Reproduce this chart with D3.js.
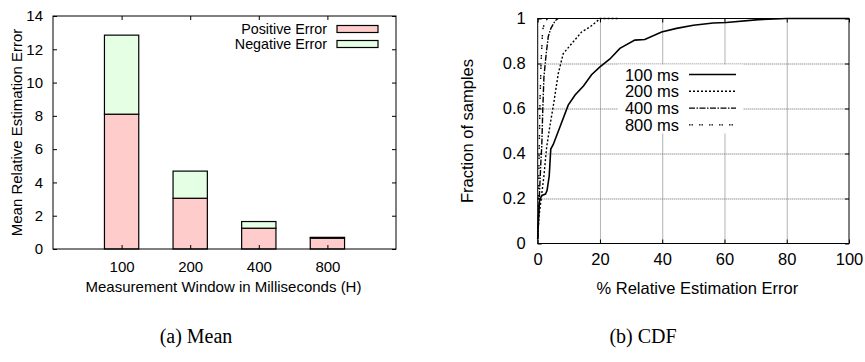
<!DOCTYPE html>
<html><head><meta charset="utf-8">
<script src="https://cdn.jsdelivr.net/npm/d3@7"></script>
<style>body{margin:0;background:#fff}svg{display:block}</style>
</head><body>
<svg id="c" width="865" height="362"></svg>
<script>
// ---- Data: (a) Mean ----
const windows = ["100", "200", "400", "800"];
const positiveError = [8.1, 3.05, 1.25, 0.65];
const negativeError = [4.75, 1.63, 0.4, 0.05];
const barYTicks = [0, 2, 4, 6, 8, 10, 12, 14];

// ---- Data: (b) CDF ----
const cdfSeries = ["100 ms", "200 ms", "400 ms", "800 ms"];
const cdf100x = [0, 0.3, 0.6, 1, 1.5, 2.5, 3, 3.7, 4.2, 5, 7.2, 9.8, 12, 14.7, 17.3, 20, 23.2, 26.4, 31.2, 34.4, 39.8, 44.6, 50, 56.4, 60.6, 71, 80, 100];
const cdf100y = [0.02, 0.13, 0.19, 0.205, 0.215, 0.22, 0.235, 0.3, 0.42, 0.44, 0.52, 0.615, 0.66, 0.70, 0.75, 0.785, 0.82, 0.867, 0.904, 0.907, 0.94, 0.956, 0.97, 0.98, 0.982, 0.995, 1.0, 1.0];
const cdf200x = [0, 0.4, 1.3, 2, 2.6, 2.9, 4, 5, 6.6, 8.2, 10.4, 14.1, 16.8, 19.5, 20, 26];
const cdf200y = [0.03, 0.12, 0.22, 0.3, 0.39, 0.43, 0.53, 0.61, 0.755, 0.844, 0.88, 0.94, 0.963, 0.993, 1.0, 1.0];
const cdf400x = [0, 0.2, 0.5, 1, 1.3, 1.6, 2, 2.7, 3.4, 4.2, 5.6, 6.6];
const cdf400y = [0.02, 0.07, 0.2, 0.36, 0.43, 0.58, 0.74, 0.84, 0.92, 0.955, 0.99, 1.0];
const cdf800x = [0, 0.1, 0.3, 0.4, 0.5, 0.75, 1.1, 1.6, 2.4, 3.4];
const cdf800y = [0.02, 0.06, 0.2, 0.35, 0.43, 0.64, 0.81, 0.95, 0.99, 1.0];
const cdfXTicks = [0, 20, 40, 60, 80, 100];
const cdfYTicks = [0, 0.2, 0.4, 0.6, 0.8, 1];

const svg = d3.select("#c");
const SANS = "'Liberation Sans', Arial, Helvetica, sans-serif";
const SERIF = "'Liberation Serif', 'Times New Roman', serif";

// ================= (a) Mean =================
{
  const L = 53, R = 396, T = 16, B = 249;
  const fs = 15;
  const x = d3.scaleLinear().domain([0, 5]).range([L, R]);
  const y = d3.scaleLinear().domain([0, 14]).range([B, T]);
  const g = svg.append("g");
  const bw = x(0.5) - x(0);
  const colPos = "#ffcccc", colNeg = "#e5ffe5";

  windows.forEach((w, i) => {
    const cx = x(i + 1);
    const p = positiveError[i], n = negativeError[i];
    g.append("rect").attr("x", cx - bw / 2).attr("y", y(p)).attr("width", bw).attr("height", y(0) - y(p))
      .attr("fill", colPos).attr("stroke", "#000").attr("stroke-width", 1.2);
    g.append("rect").attr("x", cx - bw / 2).attr("y", y(p + n)).attr("width", bw).attr("height", y(p) - y(p + n))
      .attr("fill", colNeg).attr("stroke", "#000").attr("stroke-width", 1.2);
  });

  g.append("rect").attr("x", L).attr("y", T).attr("width", R - L).attr("height", B - T)
    .attr("fill", "none").attr("stroke", "#000").attr("stroke-width", 1);

  const ya = g.append("g").attr("transform", `translate(${L},0)`)
    .call(d3.axisLeft(y).tickValues(barYTicks).tickSize(-4).tickPadding(10).tickFormat(d3.format("d")));
  const yb = g.append("g").attr("transform", `translate(${R},0)`)
    .call(d3.axisRight(y).tickValues(barYTicks).tickSize(-4).tickFormat(""));
  const xa = g.append("g").attr("transform", `translate(0,${B})`)
    .call(d3.axisBottom(x).tickValues([1, 2, 3, 4]).tickSize(-4).tickPadding(12).tickFormat(d => windows[d - 1]));
  const xb = g.append("g").attr("transform", `translate(0,${T})`)
    .call(d3.axisTop(x).tickValues([1, 2, 3, 4]).tickSize(-4).tickFormat(""));
  [ya, yb, xa, xb].forEach(a => {
    a.select(".domain").remove();
    a.selectAll("text").attr("font-family", SANS).attr("font-size", fs).attr("fill", "#000");
    a.selectAll("line").attr("stroke", "#000");
  });

  g.append("text").attr("x", (L + R) / 2 - 1).attr("y", 292).attr("text-anchor", "middle")
    .attr("font-family", SANS).attr("font-size", fs).text("Measurement Window in Milliseconds (H)");
  g.append("text").attr("transform", `translate(22,${(T + B) / 2}) rotate(-90)`).attr("text-anchor", "middle")
    .attr("font-family", SANS).attr("font-size", fs).text("Mean Relative Estimation Error");

  const legend = [["Positive Error", colPos], ["Negative Error", colNeg]];
  legend.forEach(([t, c], i) => {
    const cy = 29 + i * 15;
    g.append("text").attr("x", 327).attr("y", cy + 5).attr("text-anchor", "end")
      .attr("font-family", SANS).attr("font-size", 14.3).text(t);
    g.append("rect").attr("x", 337).attr("y", cy - 3.5).attr("width", 41).attr("height", 7)
      .attr("fill", c).attr("stroke", "#000").attr("stroke-width", 1.2);
  });

  svg.append("text").attr("x", 196).attr("y", 343).attr("text-anchor", "middle")
    .attr("font-family", SERIF).attr("font-size", 20).text("(a) Mean");
}

// ================= (b) CDF =================
{
  const L = 537.7, R = 849, T = 18.5, B = 243.5;
  const fs = 16.5;
  const x = d3.scaleLinear().domain([0, 100]).range([L, R]);
  const y = d3.scaleLinear().domain([0, 1]).range([B, T]);
  const g = svg.append("g");

  // grid via axes with full-length ticks
  const gx = g.append("g").attr("transform", `translate(0,${B})`)
    .call(d3.axisBottom(x).tickValues(cdfXTicks.slice(1, -1)).tickSize(-(B - T)).tickFormat(""));
  const gy = g.append("g").attr("transform", `translate(${L},0)`)
    .call(d3.axisLeft(y).tickValues(cdfYTicks.slice(1, -1)).tickSize(-(R - L)).tickFormat(""));
  [gx, gy].forEach(a => {
    a.select(".domain").remove();
    a.selectAll("line").attr("stroke", "#666").attr("stroke-width", 1).attr("stroke-dasharray", "1,1");
  });

  const xs = [cdf100x, cdf200x, cdf400x, cdf800x];
  const ys = [cdf100y, cdf200y, cdf400y, cdf800y];
  const dashes = [null, "2,2", "6,1.5,1.5,1.5", "1.5,1,1.5,6"];
  const line = d3.line().x(d => x(d[0])).y(d => y(d[1]));

  g.append("rect").attr("x", 618).attr("y", 64.5).attr("width", 125).attr("height", 69).attr("fill", "#fff");

  cdfSeries.forEach((s, i) => {
    const pts = xs[i].map((v, j) => [v, ys[i][j]]);
    g.append("path").attr("d", line(pts)).attr("fill", "none").attr("stroke", "#000")
      .attr("stroke-width", i === 0 ? 1.6 : 1.4).attr("stroke-dasharray", dashes[i]);
  });

  cdfSeries.forEach((s, i) => {
    const cy = 74.5 + i * 16.8;
    g.append("text").attr("x", 679).attr("y", cy + 6).attr("text-anchor", "end")
      .attr("font-family", SANS).attr("font-size", fs).text(s);
    g.append("line").attr("x1", 689).attr("x2", 736).attr("y1", cy).attr("y2", cy)
      .attr("stroke", "#000").attr("stroke-width", i === 0 ? 1.6 : 1.4).attr("stroke-dasharray", dashes[i]);
  });

  g.append("rect").attr("x", L).attr("y", T).attr("width", R - L).attr("height", B - T)
    .attr("fill", "none").attr("stroke", "#000").attr("stroke-width", 1);

  const ya = g.append("g").attr("transform", `translate(${L},0)`)
    .call(d3.axisLeft(y).tickValues(cdfYTicks).tickSize(-4).tickPadding(12).tickFormat(d3.format("~g")));
  const yb = g.append("g").attr("transform", `translate(${R},0)`)
    .call(d3.axisRight(y).tickValues(cdfYTicks).tickSize(-4).tickFormat(""));
  const xa = g.append("g").attr("transform", `translate(0,${B})`)
    .call(d3.axisBottom(x).tickValues(cdfXTicks).tickSize(-4).tickPadding(10).tickFormat(d3.format("d")));
  const xb = g.append("g").attr("transform", `translate(0,${T})`)
    .call(d3.axisTop(x).tickValues(cdfXTicks).tickSize(-4).tickFormat(""));
  [ya, yb, xa, xb].forEach(a => {
    a.select(".domain").remove();
    a.selectAll("text").attr("font-family", SANS).attr("font-size", fs).attr("fill", "#000");
    a.selectAll("line").attr("stroke", "#000");
  });

  g.append("text").attr("x", (L + R) / 2 + 4).attr("y", 294).attr("text-anchor", "middle")
    .attr("font-family", SANS).attr("font-size", fs).text("% Relative Estimation Error");
  g.append("text").attr("transform", `translate(473,${(T + B) / 2}) rotate(-90)`).attr("text-anchor", "middle")
    .attr("font-family", SANS).attr("font-size", fs).text("Fraction of samples");

  svg.append("text").attr("x", 643).attr("y", 343).attr("text-anchor", "middle")
    .attr("font-family", SERIF).attr("font-size", 20).text("(b) CDF");
}
</script>
</body></html>
